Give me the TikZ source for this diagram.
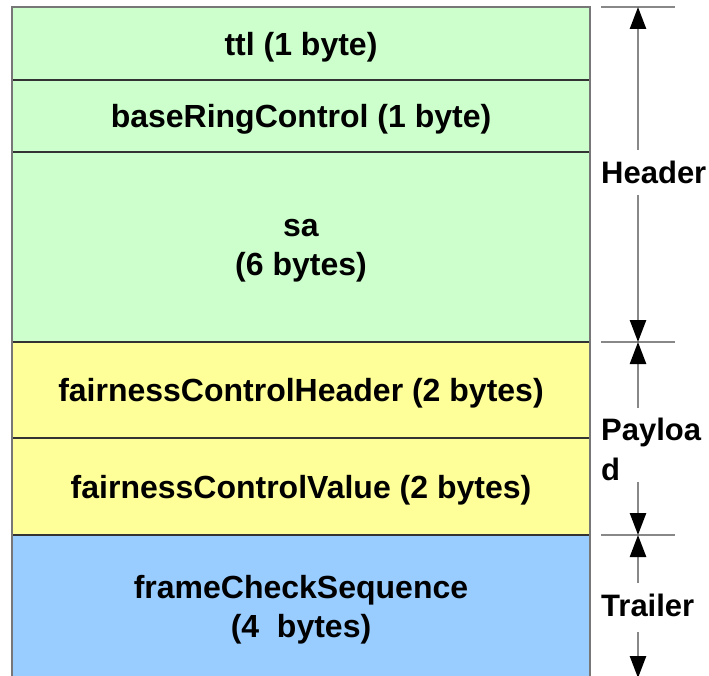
\documentclass[tikz,border=0pt]{standalone}
\usepackage{fontspec}
\setmainfont{Liberation Sans}
\usetikzlibrary{arrows.meta}
\definecolor{hdrgreen}{HTML}{CCFFCC}
\definecolor{payyellow}{HTML}{FFFF99}
\definecolor{trlblue}{HTML}{99CCFF}
\definecolor{divider}{HTML}{333333}
\definecolor{outline}{HTML}{777777}
\definecolor{dimgray}{HTML}{888888}
\begin{document}
\begin{tikzpicture}[x=1pt,y=-1pt,
  field/.style={draw=divider, line width=2pt, minimum width=578pt, inner sep=0pt, outer sep=0pt,
    anchor=north west, font=\bfseries\fontsize{32}{39}\selectfont, align=center, text depth=0pt},
  lbl/.style={font=\bfseries\fontsize{31}{40}\selectfont, inner sep=0pt, anchor=west, align=left},
  tickline/.style={draw=dimgray, line width=2.5pt},
  dimarrow/.style={draw=dimgray, line width=2.5pt, -{Triangle[length=22pt,width=16pt,color=black,fill=black]}}]
\useasboundingbox (0,0) rectangle (709,676);
\clip (0,0) rectangle (709,676);
\fill[white] (0,0) rectangle (709,676);
% fields
\node[field, fill=hdrgreen, minimum height=73pt] (ttl) at (12,7) {ttl (1 byte)};
\node[field, fill=hdrgreen, minimum height=72pt] (brc) at (ttl.south west) {baseRingControl (1 byte)};
\node[field, fill=hdrgreen, minimum height=190pt] (sa) at (brc.south west) {sa\\(6 bytes)};
\node[field, fill=payyellow, minimum height=96pt] (fch) at (sa.south west) {fairnessControlHeader (2 bytes)};
\node[field, fill=payyellow, minimum height=97pt] (fcv) at (fch.south west) {fairnessControlValue (2 bytes)};
\node[field, fill=trlblue, minimum height=142pt] (fcs) at (fcv.south west) {frameCheckSequence\\(4\ \ bytes)};
\draw[outline, line width=2pt] (fcs.south west) -- (ttl.north west) -- (ttl.north east) -- (fcs.south east);
% right-side dimension marks
\coordinate (t1) at (638,7);
\coordinate (t2) at (638,342);
\coordinate (t3) at (638,535);
\coordinate (t4) at (638,678);
\foreach \t in {t1,t2,t3} \draw[tickline] ([xshift=-37pt]\t) -- ([xshift=37pt]\t);
\node[lbl] (hdr) at (601,172) {Header};
\node[lbl] (pay) at (601,449) {Payloa\\d};
\node[lbl] (trl) at (601,605) {Trailer};
\coordinate (h1) at (638,150);
\coordinate (h2) at (638,195);
\coordinate (p1) at (638,408);
\coordinate (p2) at (638,482);
\coordinate (r1) at (638,583);
\coordinate (r2) at (638,632);
\draw[dimarrow] (h1) -- (t1);
\draw[dimarrow] (h2) -- (t2);
\draw[dimarrow] (p1) -- (t2);
\draw[dimarrow] (p2) -- (t3);
\draw[dimarrow] (r1) -- (t3);
\draw[dimarrow] (r2) -- (t4);
\end{tikzpicture}
\end{document}
